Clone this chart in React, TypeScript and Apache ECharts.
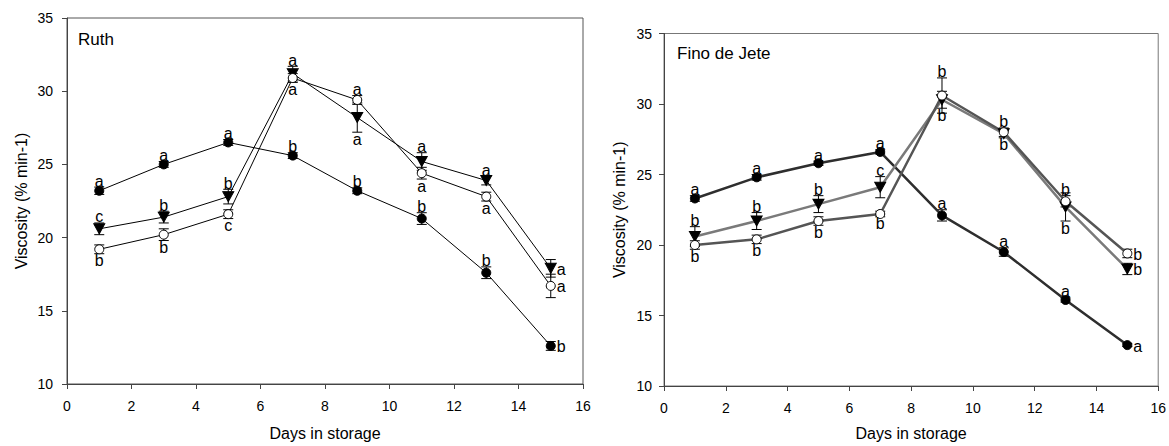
import React, { useEffect, useRef } from "react";
import * as echarts from "echarts";

const days = [1, 3, 5, 7, 9, 11, 13, 15];

// Ruth
const ruthFilled = [23.2, 25.0, 26.5, 25.6, 23.2, 21.3, 17.6, 12.6];
const ruthFilledSE = [0.25, 0.2, 0.2, 0.2, 0.2, 0.4, 0.4, 0.3];
const ruthFilledLetters = ["a", "a", "a", "b", "b", "b", "b", "b"];
const ruthFilledPos = ["top", "top", "top", "top", "top", "top", "top", "right"];

const ruthTriangle = [20.6, 21.4, 22.8, 31.2, 28.2, 25.2, 23.9, 17.9];
const ruthTriangleSE = [0.4, 0.4, 0.5, 0.5, 1.0, 0.6, 0.3, 0.6];
const ruthTriangleLetters = ["c", "b", "b", "a", "a", "a", "a", "a"];
const ruthTrianglePos = ["top", "top", "top", "top", "bottom", "top", "top", "right"];

const ruthOpen = [19.2, 20.2, 21.6, 30.9, 29.4, 24.4, 22.8, 16.7];
const ruthOpenSE = [0.3, 0.4, 0.3, 0.3, 0.3, 0.4, 0.3, 0.8];
const ruthOpenLetters = ["b", "b", "c", "a", "a", "a", "a", "a"];
const ruthOpenPos = ["bottom", "bottom", "bottom", "bottom", "top", "bottom", "bottom", "right"];

// Fino de Jete
const fjFilled = [23.3, 24.8, 25.8, 26.6, 22.1, 19.5, 16.1, 12.9];
const fjFilledSE = [0.2, 0.2, 0.15, 0.15, 0.4, 0.3, 0.15, 0.1];
const fjFilledLetters = ["a", "a", "a", "a", "a", "a", "a", "a"];
const fjFilledPos = ["top", "top", "top", "top", "top", "top", "top", "right"];

const fjTriangle = [20.6, 21.7, 22.9, 24.1, 30.3, 27.9, 22.7, 18.3];
const fjTriangleSE = [0.7, 0.6, 0.6, 0.75, 0.6, 0.3, 1.0, 0.4];
const fjTriangleLetters = ["b", "b", "b", "c", "b", "b", "b", "b"];
const fjTrianglePos = ["top", "top", "top", "top", "bottom", "bottom", "bottom", "right"];

const fjOpen = [20.0, 20.4, 21.7, 22.2, 30.6, 28.0, 23.1, 19.4];
const fjOpenSE = [0.3, 0.3, 0.3, 0.2, 1.25, 0.3, 0.4, 0.3];
const fjOpenLetters = ["b", "b", "b", "b", "b", "b", "b", "b"];
const fjOpenPos = ["bottom", "bottom", "bottom", "bottom", "top", "top", "top", "right"];

const panelTitles = ["Ruth", "Fino de Jete"];
const xName = "Days in storage";
const yName = "Viscosity (% min-1)";

const FONT = "'Liberation Sans', Arial, sans-serif";

type Spec = {
  values: number[];
  se: number[];
  letters: string[];
  pos: string[];
  kind: "filled" | "triangle" | "open";
  lineColor: string;
  lineWidth: number;
};

function buildSeries(spec: Spec, axis: number) {
  const data = days.map((d, i) => [d, spec.values[i], spec.se[i]]);
  const err = {
    type: "custom",
    xAxisIndex: axis,
    yAxisIndex: axis,
    z: 1,
    silent: true,
    data,
    encode: { x: 0, y: 1 },
    renderItem: (params: any, api: any) => {
      const x = api.value(0);
      const y = api.value(1);
      const s = api.value(2);
      const t = api.coord([x, y + s]);
      const b = api.coord([x, y - s]);
      const hw = 5;
      const st = { stroke: "#000", lineWidth: 1 };
      return {
        type: "group",
        children: [
          { type: "line", shape: { x1: t[0], y1: t[1], x2: b[0], y2: b[1] }, style: st },
          { type: "line", shape: { x1: t[0] - hw, y1: t[1], x2: t[0] + hw, y2: t[1] }, style: st },
          { type: "line", shape: { x1: b[0] - hw, y1: b[1], x2: b[0] + hw, y2: b[1] }, style: st },
        ],
      };
    },
  };
  const symbol = spec.kind === "triangle" ? "triangle" : "circle";
  const line = {
    type: "line",
    xAxisIndex: axis,
    yAxisIndex: axis,
    z: 2,
    data: days.map((d, i) => [d, spec.values[i]]),
    symbol,
    symbolRotate: spec.kind === "triangle" ? 180 : 0,
    symbolSize: spec.kind === "triangle" ? [11, 10] : 9,
    showAllSymbol: true,
    lineStyle: { color: spec.lineColor, width: spec.lineWidth },
    itemStyle: {
      color: spec.kind === "open" ? "#fff" : "#000",
      borderColor: "#000",
      borderWidth: 1,
    },
    emphasis: { disabled: true },
  };
  const labels = {
    type: "custom",
    xAxisIndex: axis,
    yAxisIndex: axis,
    z: 3,
    silent: true,
    data,
    encode: { x: 0, y: 1 },
    renderItem: (params: any, api: any) => {
      const i = params.dataIndex;
      const x = api.value(0);
      const y = api.value(1);
      const s = api.value(2);
      const p = spec.pos[i];
      const base = { text: spec.letters[i], fill: "#000", fontSize: 16, fontFamily: FONT };
      if (p === "top") {
        const c = api.coord([x, y + s]);
        return { type: "text", x: c[0], y: c[1] + 2, style: { ...base, align: "center", verticalAlign: "bottom" } };
      }
      if (p === "bottom") {
        const c = api.coord([x, y - s]);
        return { type: "text", x: c[0], y: c[1] - 1, style: { ...base, align: "center", verticalAlign: "top" } };
      }
      const c = api.coord([x, y]);
      return { type: "text", x: c[0] + 6, y: c[1] + 1, style: { ...base, align: "left", verticalAlign: "middle" } };
    },
  };
  return [err, line, labels];
}

function axisCommon(name: string, gap: number, margin: number) {
  return {
    type: "value",
    name,
    nameLocation: "middle",
    nameGap: gap,
    nameTextStyle: { fontSize: 16, color: "#000", fontFamily: FONT },
    axisLine: { show: true, onZero: false, lineStyle: { color: "#444", width: 1 } },
    axisTick: { show: true, inside: false, length: 5, lineStyle: { color: "#444" } },
    axisLabel: { color: "#000", fontSize: 14, fontFamily: FONT, margin },
    splitLine: { show: false },
  };
}

export default function App() {
  const ref = useRef<HTMLDivElement>(null);
  useEffect(() => {
    if (!ref.current) return;
    const chart = echarts.init(ref.current, undefined, { renderer: "svg" });
    const ruthSpecs: Spec[] = [
      { values: ruthFilled, se: ruthFilledSE, letters: ruthFilledLetters, pos: ruthFilledPos, kind: "filled", lineColor: "#000", lineWidth: 1 },
      { values: ruthTriangle, se: ruthTriangleSE, letters: ruthTriangleLetters, pos: ruthTrianglePos, kind: "triangle", lineColor: "#000", lineWidth: 1 },
      { values: ruthOpen, se: ruthOpenSE, letters: ruthOpenLetters, pos: ruthOpenPos, kind: "open", lineColor: "#000", lineWidth: 1 },
    ];
    const fjSpecs: Spec[] = [
      { values: fjFilled, se: fjFilledSE, letters: fjFilledLetters, pos: fjFilledPos, kind: "filled", lineColor: "#2e2e2e", lineWidth: 2.5 },
      { values: fjTriangle, se: fjTriangleSE, letters: fjTriangleLetters, pos: fjTrianglePos, kind: "triangle", lineColor: "#7a7a7a", lineWidth: 2.5 },
      { values: fjOpen, se: fjOpenSE, letters: fjOpenLetters, pos: fjOpenPos, kind: "open", lineColor: "#555", lineWidth: 2.5 },
    ];
    const series: any[] = [];
    ruthSpecs.forEach((s) => series.push(...buildSeries(s, 0)));
    fjSpecs.forEach((s) => series.push(...buildSeries(s, 1)));

    chart.setOption({
      animation: false,
      backgroundColor: "#fff",
      grid: [
        { left: 67, top: 18, width: 516, height: 369, show: true, borderColor: "#555", borderWidth: 1, backgroundColor: "transparent" },
        { left: 664, top: 33.5, width: 495, height: 356, show: true, borderColor: "#777", borderWidth: 1, backgroundColor: "transparent" },
      ],
      xAxis: [
        { ...axisCommon(xName, 41, 15), gridIndex: 0, min: 0, max: 16, interval: 2 },
        { ...axisCommon(xName, 39, 15), gridIndex: 1, min: 0, max: 16, interval: 2 },
      ],
      yAxis: [
        { ...axisCommon(yName, 38, 14), gridIndex: 0, min: 10, max: 35, interval: 5 },
        { ...axisCommon(yName, 37, 12), gridIndex: 1, min: 10, max: 35, interval: 5 },
      ],
      graphic: [
        { type: "text", left: 78, top: 31, style: { text: panelTitles[0], fontSize: 17, fill: "#000", fontFamily: FONT } },
        { type: "text", left: 677, top: 45, style: { text: panelTitles[1], fontSize: 17, fill: "#000", fontFamily: FONT } },
      ],
      series,
    });
    return () => chart.dispose();
  }, []);
  return (
    <div
      ref={ref}
      style={{ position: "absolute", left: 0, top: 0, width: 1169, height: 446 }}
    />
  );
}
